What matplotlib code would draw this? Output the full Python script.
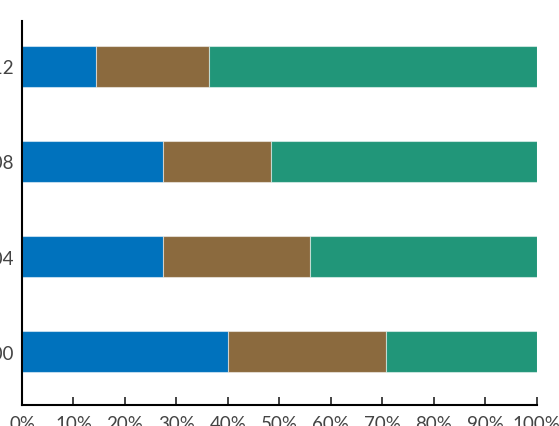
import numpy as np
import matplotlib.pyplot as plt

plt.rcParams['font.family'] = ['Lato', 'DejaVu Sans']

years = ['2000', '2004', '2008', '2012']
part1 = [40.0, 27.4, 27.4, 14.4]
part2 = [30.7, 28.5, 21.0, 22.0]
part3 = [29.3, 44.1, 51.6, 63.6]
colors = ['#0072BD', '#8B6A3E', '#219679']

fig = plt.figure(figsize=(5.59, 4.27), dpi=100)
ax = fig.add_axes([0.0394, 0.0492, 0.9206, 0.8993])

y = np.arange(len(years))
left = np.zeros(len(years))
for vals, c in zip([part1, part2, part3], colors):
    ax.barh(y, vals, left=left, height=0.43, color=c,
            edgecolor=(1, 1, 1, 0.5), linewidth=0.8)
    left += np.array(vals)

ax.set_xlim(0, 100)
ax.set_ylim(-0.563, 3.479)
ax.set_xticks(np.arange(0, 101, 10))
ax.set_xticklabels([f'{v}%' for v in range(0, 101, 10)])
ax.set_yticks(y)
ax.set_yticklabels(years)

for s in ['top', 'right']:
    ax.spines[s].set_visible(False)
ax.spines['left'].set_linewidth(1.5)
ax.spines['bottom'].set_linewidth(1.5)
ax.tick_params(axis='x', direction='in', length=6, width=1.2, labelsize=13.5,
               pad=7.5, colors='#222222', labelcolor='#444444')
ax.tick_params(axis='y', length=0, labelsize=13.5, pad=6, labelcolor='#444444')

plt.savefig('out.png', dpi=100)
